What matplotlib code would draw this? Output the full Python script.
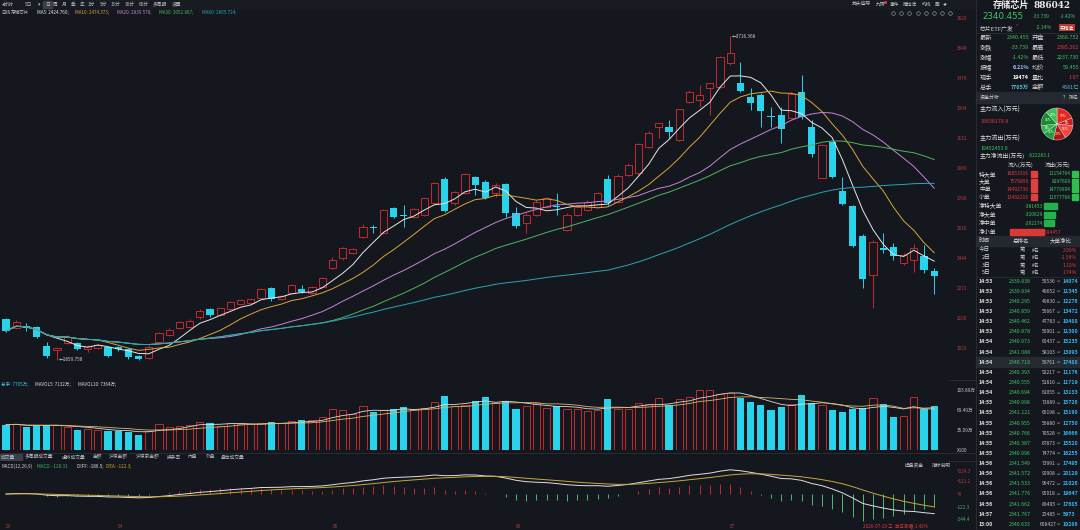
import matplotlib
matplotlib.use('Agg')
import matplotlib.pyplot as plt
import numpy as np
import pandas as pd
from matplotlib.patches import Rectangle

plt.rcParams['font.family'] = ['Noto Sans CJK SC', 'DejaVu Sans']
plt.rcParams['axes.unicode_minus'] = False

# ---------------- data ----------------
opens = [2093, 2040, 2056, 2047, 1940, 1917, 1955, 1959, 1925, 1930,
         1932, 1935, 1921, 1882, 1870, 1964, 2003, 2041, 2050, 2104,
         2150, 2117, 2150, 2180, 2184, 2213, 2270, 2210, 2242, 2266,
         2245, 2280, 2385, 2442, 2471, 2566, 2620, 2585, 2729, 2690,
         2681, 2690, 2757, 2897, 2760, 2815, 2906, 2881, 2815, 2868,
         2700, 2643, 2690, 2738, 2742, 2604, 2690, 2719, 2738, 2895,
         2767, 2920, 2929, 3082, 3197, 3193, 3120, 3340, 3350, 3417,
         3426, 3560, 3449, 3369, 3378, 3258, 3264, 3245, 3397, 3193,
         2905, 3107, 2830, 2742, 2572, 2347, 2503, 2505, 2413, 2432,
         2457, 2368.752]
highs = [2098, 2090, 2070, 2054, 1964, 1936, 2000, 1965, 1945, 1950,
         1936, 1940, 1926, 1888, 1945, 2020, 2040, 2085, 2092, 2150,
         2156, 2160, 2200, 2210, 2212, 2270, 2276, 2232, 2295, 2289,
         2285, 2335, 2450, 2505, 2503, 2640, 2633, 2725, 2734, 2748,
         2728, 2790, 2880, 2910, 2830, 2930, 2914, 2890, 2872, 2876,
         2734, 2700, 2775, 2795, 2815, 2700, 2745, 2775, 2822, 2920,
         2925, 2990, 3105, 3170, 3220, 3235, 3300, 3410, 3436, 3450,
         3605, 3716.368, 3570, 3417, 3390, 3308, 3311, 3395, 3493, 3235,
         3100, 3115, 2910, 2750, 2580, 2545, 2589, 2530, 2470, 2525,
         2518, 2385.262]
lows = [2022, 2035, 2027, 1984, 1869, 1859.758, 1950, 1915, 1905, 1920,
        1878, 1910, 1863, 1862, 1866, 1955, 1995, 2035, 2045, 2095,
        2108, 2110, 2145, 2175, 2178, 2208, 2200, 2205, 2236, 2245,
        2240, 2275, 2380, 2435, 2465, 2560, 2585, 2580, 2671, 2623,
        2676, 2685, 2750, 2709, 2750, 2810, 2805, 2780, 2795, 2681,
        2614, 2585, 2685, 2730, 2690, 2598, 2685, 2712, 2730, 2750,
        2760, 2912, 2920, 3075, 3130, 3130, 3115, 3330, 3312, 3264,
        3420, 3550, 3398, 3292, 3197, 3197, 3101, 3240, 3240, 3025,
        2900, 2905, 2748, 2505, 2270, 2155, 2470, 2430, 2405, 2366,
        2356, 2237.730]
closes = [2026, 2080, 2041, 1989, 1882, 1930, 1990, 1921, 1940, 1945,
          1882, 1920, 1875, 1863, 1935, 2012, 2031, 2079, 2085, 2142,
          2115, 2155, 2194, 2203, 2207, 2264, 2207, 2225, 2289, 2247,
          2278, 2327, 2430, 2499, 2497, 2623, 2616, 2719, 2681, 2684,
          2723, 2786, 2872, 2715, 2820, 2925, 2862, 2786, 2862, 2704,
          2627, 2690, 2767, 2786, 2734, 2690, 2738, 2767, 2815, 2757,
          2914, 2977, 3098, 3159, 3216, 3166, 3296, 3398, 3378, 3445,
          3598, 3617, 3403, 3335, 3289, 3250, 3183, 3385, 3250, 3038,
          3090, 2910, 2753, 2513, 2322, 2537, 2490, 2455, 2461, 2500,
          2374.194, 2340.455]
volumes = [4390, 4550, 4000, 4280, 4280, 4390, 4000, 3480, 3580, 3420,
           3370, 3260, 3210, 2680, 3320, 4550, 4000, 4120, 4390, 4920,
           4760, 4230, 4650, 4550, 4500, 4650, 4820, 4650, 5030, 5140,
           5190, 5700, 7060, 6900, 6260, 7700, 6690, 6900, 7060, 7490,
           7060, 7300, 8300, 9360, 7600, 7860, 8560, 9300, 8100, 8600,
           7170, 7600, 8100, 7300, 7700, 7060, 7060, 6800, 6900, 8800,
           7200, 7200, 8100, 8000, 9000, 7760, 8800, 9200, 10380, 10389,
           9700, 10000, 9100, 8300, 7760, 7000, 7540, 7970, 9630, 8100,
           7860, 6900, 6630, 7170, 7280, 9000, 7920, 5720, 5830, 9200,
           7220, 7705]

month_labels = ['03', '04', '05', '06', '07']
month_start = [0, 11, 32, 50, 71]
price_ticks = [3820, 3648, 3476, 3304, 3132, 2960, 2788, 2616, 2444, 2272, 2100, 1929]
vol_ticks = [10389, 6949, 3509, 0]
vol_tick_labels = ['103.89万', '69.49万', '35.09万', 'X100']
macd_ticks = [224.3, 121.2, 0, -122.3, -244.4]
macd_tick_labels = ['+224.3', '+121.2', '+0', '-122.3', '-244.4']
ma_periods = [5, 10, 20, 30, 60]

flow_names = ['特大单', '大单', '中单', '小单']
flow_in = [18853316, 7576890, 14492730, 12492216]
flow_out = [11154764, 8297609, 14779904, 11577768]
net_names = ['净特大单', '净大单', '净中单', '净小单']
net_vals = [-381453, -320829, -292174, 914457]
rank_days = ['今日', '2日', '3日', '5日']
rank_vals = ['2.09%', '-1.58%', '1.10%', '1.74%']

ts_time = ['14:53'] * 6 + ['14:54'] * 6 + ['14:55'] * 6 + ['14:56'] * 5 + ['14:57', '15:00']
ts_price = ['2339.838', '2339.834', '2340.295', '2340.859', '2340.462', '2340.878',
            '2340.973', '2341.088', '2340.718', '2340.393', '2340.555', '2340.694',
            '2340.998', '2341.121', '2340.955', '2340.766', '2340.387', '2340.996',
            '2341.549', '2341.572', '2341.533', '2341.776', '2341.662', '2341.767', '2340.633']
ts_vol = ['55536', '48652', '49830', '55667', '47783', '50901', '60437', '58103', '59761',
          '52217', '51816', '61055', '73889', '66198', '56880', '70528', '67873', '74774',
          '73991', '90908', '96472', '95018', '88495', '25485', '608427']
ts_cnt = ['14074', '11345', '12276', '13472', '10488', '11300', '15235', '13093', '17488',
          '11176', '11719', '13133', '15726', '15190', '12750', '16666', '15520', '16255',
          '17495', '20129', '21026', '19647', '17685', '5973', '10286']

# ---------------- style ----------------
W, H = 1080, 530
BG = '#14171d'
UP = '#c42a2e'
DOWN = '#28d4ec'
RED = '#e8383d'
GREEN = '#3cc864'
TXT = '#bfc3c9'
LBL_RED = '#b8393c'
SEP = '#2c3038'
MA_COLORS = ['#e6e6e6', '#d9a53c', '#c584d8', '#4fb560', '#2aa6b8']

fig = plt.figure(figsize=(W / 100, H / 100), dpi=100, facecolor=BG)


def box(x0, y0, x1, y1):
    return [x0 / W, 1 - y1 / H, (x1 - x0) / W, (y1 - y0) / H]


def T(x, y, s, c=TXT, fs=3.4, ha='left', va='center', **kw):
    fig.text(x / W, 1 - y / H, s, color=c, fontsize=fs, ha=ha, va=va, **kw)


# overlay for separators / bands
ov = fig.add_axes([0, 0, 1, 1], zorder=-1)
ov.set_xlim(0, W)
ov.set_ylim(H, 0)
ov.axis('off')
for yy in (379.5, 453, 460.5):
    ov.plot([0, 975], [yy, yy], color=SEP, lw=0.6)
ov.plot([975.5, 975.5], [0, H], color=SEP, lw=0.6)
ov.add_patch(Rectangle((0, 0), 975, 8.5, color='#181b22'))
ov.add_patch(Rectangle((43, 0.5), 9, 7.5, color='#3a3f4a'))
ov.add_patch(Rectangle((0, 453.5), 22, 7, color='#3a3f4a'))
ov.add_patch(Rectangle((976, 91.5), 104, 11.5, color='#242830'))
ov.add_patch(Rectangle((976, 236), 104, 10, color='#242830'))
ov.add_patch(Rectangle((976, 356.8), 104, 9.8, color='#262a32'))
ov.plot([976, 1080], [32.5, 32.5], color=SEP, lw=0.5)
ov.plot([976, 1080], [277, 277], color=SEP, lw=0.5)
for k in range(8):
    ov.plot(893 + 8.2 * k, 13, marker='o', ms=2.6, mfc='none', mec='#8a8f99', mew=0.5)
ov.plot(885, 1.5, marker='o', ms=1.2, color=RED)

n = len(closes)
idx = np.arange(n)
o = np.array(opens, float)
h = np.array(highs, float)
l = np.array(lows, float)
c = np.array(closes, float)
v = np.array(volumes, float)
up = c >= o
top = np.maximum(o, c)
bot = np.minimum(o, c)
hgt = np.maximum(top - bot, 2.5)

XL = (-6 / 10.2, (948 - 6) / 10.2)


def price_y(ypx):
    return 3820 - 5.733 * (ypx - 18)


# ---------------- main price chart ----------------
ax = fig.add_axes(box(0, 16, 948, 378))
ax.set_facecolor(BG)
ax.set_xlim(*XL)
ax.set_ylim(price_y(378), price_y(16))
ax.vlines(idx[up], top[up], h[up], color=UP, lw=0.7, zorder=2)
ax.vlines(idx[up], l[up], bot[up], color=UP, lw=0.7, zorder=2)
ax.bar(idx[up], hgt[up], bottom=bot[up], width=0.72, facecolor=BG, edgecolor=UP,
       linewidth=0.7, zorder=2)
ax.vlines(idx[~up], l[~up], h[~up], color=DOWN, lw=0.7, zorder=2)
ax.bar(idx[~up], hgt[~up], bottom=bot[~up], width=0.72, color=DOWN, linewidth=0, zorder=2.1)
cs = pd.Series(c)
for p, col in zip(ma_periods, MA_COLORS):
    ax.plot(idx, cs.rolling(p, min_periods=1).mean(), color=col, lw=0.7, zorder=3)
imax = int(np.argmax(h))
imin = int(np.argmin(l))
ax.text(imax + 0.15, h[imax], '←%.3f' % h[imax], color='#d0d0d0', fontsize=3.4,
        va='center', ha='left', zorder=4)
ax.text(imin + 0.15, l[imin], '←%.3f' % l[imin], color='#d0d0d0', fontsize=3.4,
        va='center', ha='left', zorder=4)
ax.yaxis.tick_right()
ax.set_yticks(price_ticks)
ax.set_yticklabels([str(t) for t in price_ticks])
ax.tick_params(axis='y', length=0, pad=6.5, labelsize=3.4, labelcolor=LBL_RED)
ax.set_xticks([])
for s in ax.spines.values():
    s.set_visible(False)

# ---------------- volume ----------------
axv = fig.add_axes(box(0, 380, 948, 450))
axv.set_facecolor(BG)
axv.set_xlim(*XL)
axv.set_ylim(0, 12180)
axv.bar(idx[up], v[up], width=0.72, facecolor=BG, edgecolor=UP, linewidth=0.7)
axv.bar(idx[~up], v[~up], width=0.72, color=DOWN, linewidth=0)
vs = pd.Series(v)
axv.plot(idx, vs.rolling(5, min_periods=1).mean(), color='#dcdcdc', lw=0.6)
axv.plot(idx, vs.rolling(10, min_periods=1).mean(), color='#d9b86a', lw=0.6)
axv.yaxis.tick_right()
axv.set_yticks(vol_ticks)
axv.set_yticklabels(vol_tick_labels)
axv.tick_params(axis='y', length=0, pad=6.5, labelsize=3.4, labelcolor='#c8c8c8')
axv.set_xticks([])
for s in axv.spines.values():
    s.set_visible(False)

# ---------------- MACD ----------------
ema12 = cs.ewm(span=12, adjust=False).mean()
ema26 = cs.ewm(span=26, adjust=False).mean()
diff = ema12 - ema26
dea = diff.ewm(span=9, adjust=False).mean()
hist = 2 * (diff - dea)
axm = fig.add_axes(box(0, 461, 948, 523))
axm.set_facecolor(BG)
axm.set_xlim(*XL)
axm.set_ylim(-278.4, 316.8)
hv = hist.values
axm.vlines(idx[hv >= 0], 0, hv[hv >= 0], color=UP, lw=0.7)
axm.vlines(idx[hv < 0], 0, hv[hv < 0], color='#4cbf6a', lw=0.7)
axm.plot(idx, diff, color='#e0e0e0', lw=0.7)
axm.plot(idx, dea, color='#c8a93a', lw=0.7)
axm.yaxis.tick_right()
axm.set_yticks(macd_ticks)
axm.set_yticklabels(macd_tick_labels)
axm.tick_params(axis='y', length=0, pad=6.5, labelsize=3.4)
for lab, t in zip(axm.get_yticklabels(), macd_ticks):
    lab.set_color(LBL_RED if t >= 0 else '#3cb36a')
axm.set_xticks(month_start)
axm.set_xticklabels(month_labels, ha='left')
axm.tick_params(axis='x', length=0, pad=0.6, labelsize=3.3, labelcolor=LBL_RED)
for s in axm.spines.values():
    s.set_visible(False)

# ---------------- header texts (chart area) ----------------
tool = [(2, '◂分时'), (25, '5日'), (38, '▾'), (45, '日'), (53, '周'), (62, '月'), (71, '季'),
        (80, '年'), (88, '1分'), (100, '5分'), (111, '15分'), (125, '30分'), (139, '60分'),
        (153, '多周期'), (172, '设置')]
for x, s in tool:
    T(x, 4.2, s, '#b4b8be', 3.4)
for x, s in [(852, '龙头追踪'), (876, '九转'), (890, '事件'), (903, '猜拉活'), (922, '均线'),
             (935, '画'), (943, '◂▾')]:
    T(x, 4.2, s, '#c4c8ce', 3.4)

T(1, 12.7, '日线', TXT, 3.3)
T(11, 12.7, '存储芯片', TXT, 3.3)
for x, s, col in [(37, 'MA5: 2424.760;', MA_COLORS[0]), (75, 'MA10: 2474.373;', MA_COLORS[1]),
                  (117, 'MA20: 2839.578;', MA_COLORS[2]), (159, 'MA30: 3052.887;', MA_COLORS[3]),
                  (202, 'MA60: 2865.724;', MA_COLORS[4])]:
    T(x, 12.7, s, col, 3.3)

T(1, 384, '总手: 7705万;', '#3ec1d3', 3.3)
T(35, 384, 'MAVOL5: 7132万;', '#dcdcdc', 3.3)
T(78, 384, 'MAVOL10: 7364万;', '#dcdcdc', 3.3)

tabs = [(1, '成交量'), (25, '多周期成交量'), (62, '虚拟成交量'), (93, '金额'), (109, '沪深金额'),
        (136, '沪深京金额'), (167, '换手率'), (188, '内盘'), (206, '外盘'), (221, '盘后成交量')]
for x, s in tabs:
    T(x, 457, s, '#b8bcc2', 3.4)

T(1, 466, 'MACD(12,26,9)', '#d0d0d0', 3.3)
T(37, 466, 'MACD: -128.31', '#3cb36a', 3.3)
T(77, 466, 'DIFF: -186.5;', '#e0e0e0', 3.3)
T(106, 466, 'DEA: -122.3;', '#c8a93a', 3.3)
T(905, 465, '操盘资金', '#c8c8c8', 3.4)
T(932, 465, '指标说明', '#c8c8c8', 3.4)
T(863, 526, '2026-07-29 三  当日涨幅-1.42%', RED, 3.3)

# ---------------- right panel ----------------
T(993, 5.5, '存储芯片', '#ececec', 6.6, weight='bold')
T(1034, 5.5, '886042', '#ececec', 6.4, weight='bold', family='DejaVu Serif')
T(982, 16.8, '2340.455', GREEN, 6.2, family='DejaVu Sans')
T(1033, 16.8, '-33.739', GREEN, 3.6)
T(1060, 16.8, '-1.42%', GREEN, 3.6)
T(980, 27.7, '芯片ETF广发', '#d6d6d6', 4.2)
T(1016, 25.5, '*', RED, 3.5)
T(1036, 27.7, '-2.14%', GREEN, 3.6)
T(1060, 27.7, '买精选', '#ffffff', 3.4,
  bbox=dict(boxstyle='square,pad=0.25', fc='#c0392b', ec='none'))

row1_l = ['最新', '涨跌', '涨幅', '振幅', '现手', '总手']
row1_v = ['2340.455', '-33.739', '-1.42%', '6.21%', '19474', '7705万']
row1_c = [GREEN, GREEN, GREEN, '#9cc2ff', '#ffffff', '#5bc0de']
row2_l = ['开盘', '最高', '最低', '均价', '量比', '金额']
row2_v = ['2368.752', '2385.262', '2237.730', '59.455', '1.07', '4581亿']
row2_c = [GREEN, RED, GREEN, GREEN, RED, '#5bc0de']
for k in range(6):
    yy = 37.7 + 10 * k
    T(980, yy, row1_l[k], '#d6d6d6', 4.5)
    T(1029, yy, row1_v[k], row1_c[k], 3.9, ha='right', weight='bold' if k >= 3 else 'normal')
    T(1032, yy, row2_l[k], '#d6d6d6', 4.5)
    T(1079, yy, row2_v[k], row2_c[k], 3.9, ha='right')

T(980, 97.3, '资金分析', '#cfcfcf', 3.6)
T(1063, 97.3, '?', '#cfcfcf', 3.6)
T(1069, 97.3, '排名', '#cfcfcf', 3.6)

T(980, 110, '主力流入(万元)', '#e0e0e0', 4.4)
T(980, 121, '18838178.8', RED, 3.8)
T(980, 138.3, '主力流出(万元)', '#e0e0e0', 4.4)
T(980, 149, '19452453.9', GREEN, 3.8)
T(980, 155.8, '主力净流出(万元)', '#e0e0e0', 4.2)
T(1029, 155.8, ':622283.1', GREEN, 3.5)

pie_vals = flow_in + flow_out
pie_cols = ['#e8261f', '#c91c1c', '#f2473f', '#b51515', '#1f9e3c', '#2db54d', '#178a31', '#37c458']
tot = float(sum(pie_vals))
pax = fig.add_axes(box(1037, 104, 1077, 144))
pax.pie(pie_vals, colors=pie_cols, startangle=90, counterclock=False,
        labels=['%d%%' % round(100 * pv / tot) for pv in pie_vals], labeldistance=0.62,
        wedgeprops=dict(edgecolor='#f0f0f0', linewidth=0.3),
        textprops=dict(color='white', fontsize=2.4, ha='center', va='center'))
pax.set_aspect('equal')

T(1008, 165, '流入(万元)', '#e0e0e0', 4.0)
T(1045, 165, '流出(万元)', '#e0e0e0', 4.0)
for k, (nm, fi, fo) in enumerate(zip(flow_names, flow_in, flow_out)):
    yy = 173.7 + 7.8 * k
    T(979, yy, nm, '#e0e0e0', 4.2)
    T(1029, yy, str(fi), RED, 3.5, ha='right')
    T(1071, yy, str(fo), GREEN, 3.5, ha='right')
    ov.add_patch(Rectangle((1031, yy - 3), 6, 6, color='#e04040'))
    ov.add_patch(Rectangle((1072, yy - 3), 6, 6, color='#2fbf4f'))

for k, (nm, nv) in enumerate(zip(net_names, net_vals)):
    yy = 206 + 8.7 * k
    T(979, yy, nm, '#e0e0e0', 4.2)
    if nv < 0:
        blen = 13 * abs(nv) / 381453
        ov.add_patch(Rectangle((1044, yy - 3), blen, 6, color='#22b14c'))
        T(1043, yy, str(nv), GREEN, 3.5, ha='right')
    else:
        ov.add_patch(Rectangle((1010, yy - 3), 34, 6, color='#d93a36'))
        T(1045, yy, str(nv), RED, 3.5)

T(979, 241, '时间', '#d6d6d6', 4.0)
T(1013, 241, '总排名', '#d6d6d6', 4.0)
T(1050, 241, '大单净比', '#d6d6d6', 4.0)
for k, (dn, rv) in enumerate(zip(rank_days, rank_vals)):
    yy = 250 + 7.65 * k
    T(990, yy, dn, '#e0e0e0', 4.0, ha='right')
    T(1020, yy, '第', '#d0d0d0', 3.8)
    T(1032, yy, '#名', '#d0d0d0', 3.6)
    T(1077, yy, rv, RED, 3.5, ha='right')

for k in range(len(ts_time)):
    yy = 281.2 + 10.13 * k
    T(979, yy, ts_time[k], '#e0e0e0', 3.8, weight='bold')
    T(1031, yy, ts_price[k], GREEN, 3.8, ha='right')
    T(1056, yy, ts_vol[k], '#c4c4c4', 3.6, ha='right')
    T(1057, yy, '⇨', '#9aa0aa', 3.0, family='DejaVu Sans')
    T(1063, yy, ts_cnt[k], '#2fb6f2', 3.8, weight='bold')

fig.savefig('out.png', dpi=100, facecolor=BG)
